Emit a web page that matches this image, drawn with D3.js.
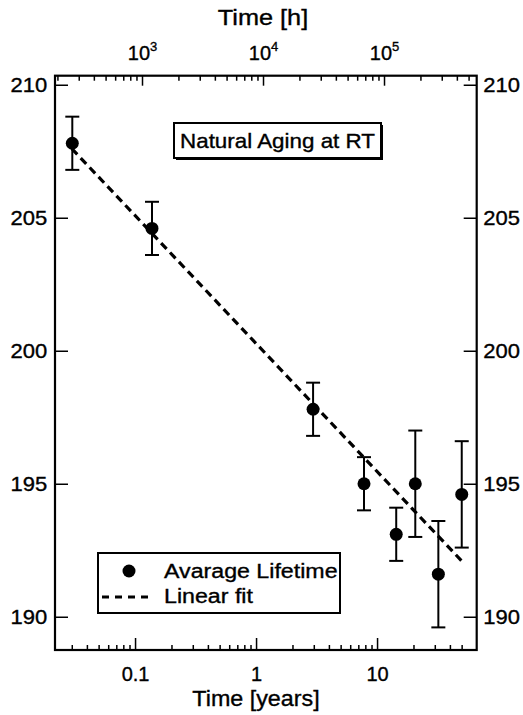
<!DOCTYPE html>
<html lang="en">
<head>
  <meta charset="utf-8">
  <title>Natural Aging at RT</title>
  <script src="https://d3js.org/d3.v7.min.js"></script>
  <style>
  body { margin: 0; background: #fff; }
  text { font-family: "Liberation Sans", Arial, Helvetica, sans-serif; fill: #000; stroke: #000; stroke-width: 0.35; }
  .tick line { stroke: #000; stroke-width: 1.5; }
  </style>
</head>
<body>
<script>
  // data
  var years    = [0.0303, 0.138, 2.96, 7.8, 14.4, 20.7, 32.1, 50.1];
  var lifetime = [207.8, 204.6, 197.8, 195.0, 193.1, 195.0, 191.6, 194.6];
  var errors   = [1, 1, 1, 1, 1, 2, 2, 2];

  // dashed linear fit, end points
  var fitYears = [0.030, 50];
  var fitLife  = [207.6, 192.1];

  var yearTicks = [0.1, 1, 10];
  var hourTicks = [1e3, 1e4, 1e5];
  var hourExp   = ["3", "4", "5"];
  var lifeTicks = [190, 195, 200, 205, 210];

  var w = 523, h = 715;
  var pL = 55, pR = 476.7, pT = 75.7, pB = 650;
  var hoursPerYear = 8760;

  var svg = d3.select('body').append('svg')
    .attr('width', w)
    .attr('height', h);

  var x = d3.scaleLog().domain([0.0218, 66.6]).range([pL, pR]);
  var xh = d3.scaleLog().domain([0.0218 * hoursPerYear, 66.6 * hoursPerYear]).range([pL, pR]);
  var y = d3.scaleLinear().domain([188.75, 210.34]).range([pB, pT]);

  // minor ticks of a log scale (2..9 in each decade)
  function minorTicks(scale, maxVal) {
    return scale.ticks().filter(function(d) {
      var m = d / Math.pow(10, Math.floor(Math.log10(d) + 1e-9));
      return Math.round(m) !== 1 && d <= maxVal;
    });
  }

  function clean(g) { g.select('.domain').remove(); }

  // text stretched a little wider, like the original print
  function label(x0, y0, txt, size, sx, anchor) {
    return svg.append('text')
      .attr('transform', 'translate(' + x0 + ',' + y0 + ') scale(' + sx + ',1)')
      .attr('text-anchor', anchor || 'start')
      .attr('font-size', size)
      .text(txt);
  }

  // bottom axis (years)
  svg.append('g')
    .attr('transform', 'translate(0,' + pB + ')')
    .call(d3.axisBottom(x).tickValues(minorTicks(x, 50)).tickSize(-5).tickFormat(''))
    .call(clean);
  svg.append('g')
    .attr('transform', 'translate(0,' + pB + ')')
    .call(d3.axisBottom(x).tickValues(yearTicks).tickSize(-12).tickPadding(17)
      .tickFormat(function(d) { return String(d); }))
    .call(clean)
    .selectAll('text').attr('font-size', 20);

  // top axis (hours)
  svg.append('g')
    .attr('transform', 'translate(0,' + pT + ')')
    .call(d3.axisTop(xh).tickValues(minorTicks(xh, 6e5)).tickSize(-5).tickFormat(''))
    .call(clean);
  var topAx = svg.append('g')
    .attr('transform', 'translate(0,' + pT + ')')
    .call(d3.axisTop(xh).tickValues(hourTicks).tickSize(-10).tickPadding(16).tickFormat(''))
    .call(clean);
  topAx.selectAll('.tick text')
    .attr('font-size', 20)
    .each(function(d, i) {
      var t = d3.select(this);
      t.append('tspan').text('10');
      t.append('tspan').attr('font-size', 13).attr('dy', -9).text(hourExp[i]);
    });

  // left and right axes
  svg.append('g')
    .attr('transform', 'translate(' + pL + ',0)')
    .call(d3.axisLeft(y).tickValues(lifeTicks).tickSize(-13).tickPadding(7))
    .call(clean)
    .selectAll('text').attr('font-size', 20).attr('transform', 'scale(1.1,1)');
  svg.append('g')
    .attr('transform', 'translate(' + pR + ',0)')
    .call(d3.axisRight(y).tickValues(lifeTicks).tickSize(-13).tickPadding(6))
    .call(clean)
    .selectAll('text').attr('font-size', 20).attr('transform', 'scale(1.1,1)');

  // frame
  svg.append('rect')
    .attr('x', pL).attr('y', pT)
    .attr('width', pR - pL).attr('height', pB - pT)
    .attr('fill', 'none').attr('stroke', '#000').attr('stroke-width', 2.2);

  // axis titles
  label(263, 25, 'Time [h]', 22, 1.15, 'middle');
  label(256, 706, 'Time [years]', 22, 1.06, 'middle');

  // fit line
  var fit = fitYears.map(function(d, i) { return [d, fitLife[i]]; });
  svg.append('path')
    .datum(fit)
    .attr('d', d3.line().x(function(d) { return x(d[0]); }).y(function(d) { return y(d[1]); }))
    .attr('fill', 'none')
    .attr('stroke', '#000')
    .attr('stroke-width', 3.2)
    .attr('stroke-dasharray', '8,5');

  // error bars and points
  var pts = years.map(function(d, i) { return { t: d, v: lifetime[i], e: errors[i] }; });
  var bars = svg.append('g').selectAll('g').data(pts).enter().append('g')
    .attr('stroke', '#000').attr('stroke-width', 2);
  bars.append('line')
    .attr('x1', function(d) { return x(d.t); }).attr('x2', function(d) { return x(d.t); })
    .attr('y1', function(d) { return y(d.v - d.e); }).attr('y2', function(d) { return y(d.v + d.e); });
  bars.append('line')
    .attr('x1', function(d) { return x(d.t) - 7; }).attr('x2', function(d) { return x(d.t) + 7; })
    .attr('y1', function(d) { return y(d.v + d.e); }).attr('y2', function(d) { return y(d.v + d.e); });
  bars.append('line')
    .attr('x1', function(d) { return x(d.t) - 7; }).attr('x2', function(d) { return x(d.t) + 7; })
    .attr('y1', function(d) { return y(d.v - d.e); }).attr('y2', function(d) { return y(d.v - d.e); });
  svg.append('g').selectAll('circle').data(pts).enter().append('circle')
    .attr('cx', function(d) { return x(d.t); })
    .attr('cy', function(d) { return y(d.v); })
    .attr('r', 6.5)
    .attr('fill', '#000');

  // title box with shadow
  svg.append('rect').attr('x', 176).attr('y', 125).attr('width', 207).attr('height', 35).attr('fill', '#000');
  svg.append('rect').attr('x', 174).attr('y', 123).attr('width', 207).attr('height', 35)
    .attr('fill', '#fff').attr('stroke', '#000').attr('stroke-width', 2);
  label(277.5, 147.5, 'Natural Aging at RT', 20, 1.12, 'middle');

  // legend
  svg.append('rect').attr('x', 98).attr('y', 553).attr('width', 242).attr('height', 60)
    .attr('fill', '#fff').attr('stroke', '#000').attr('stroke-width', 2);
  svg.append('circle').attr('cx', 129).attr('cy', 571).attr('r', 6.5).attr('fill', '#000');
  label(164, 578, 'Avarage Lifetime', 20, 1.16);
  svg.append('line')
    .attr('x1', 102).attr('x2', 150).attr('y1', 597).attr('y2', 597)
    .attr('stroke', '#000').attr('stroke-width', 3).attr('stroke-dasharray', '7,6');
  label(164, 603, 'Linear fit', 20, 1.16);
</script>
</body>
</html>
